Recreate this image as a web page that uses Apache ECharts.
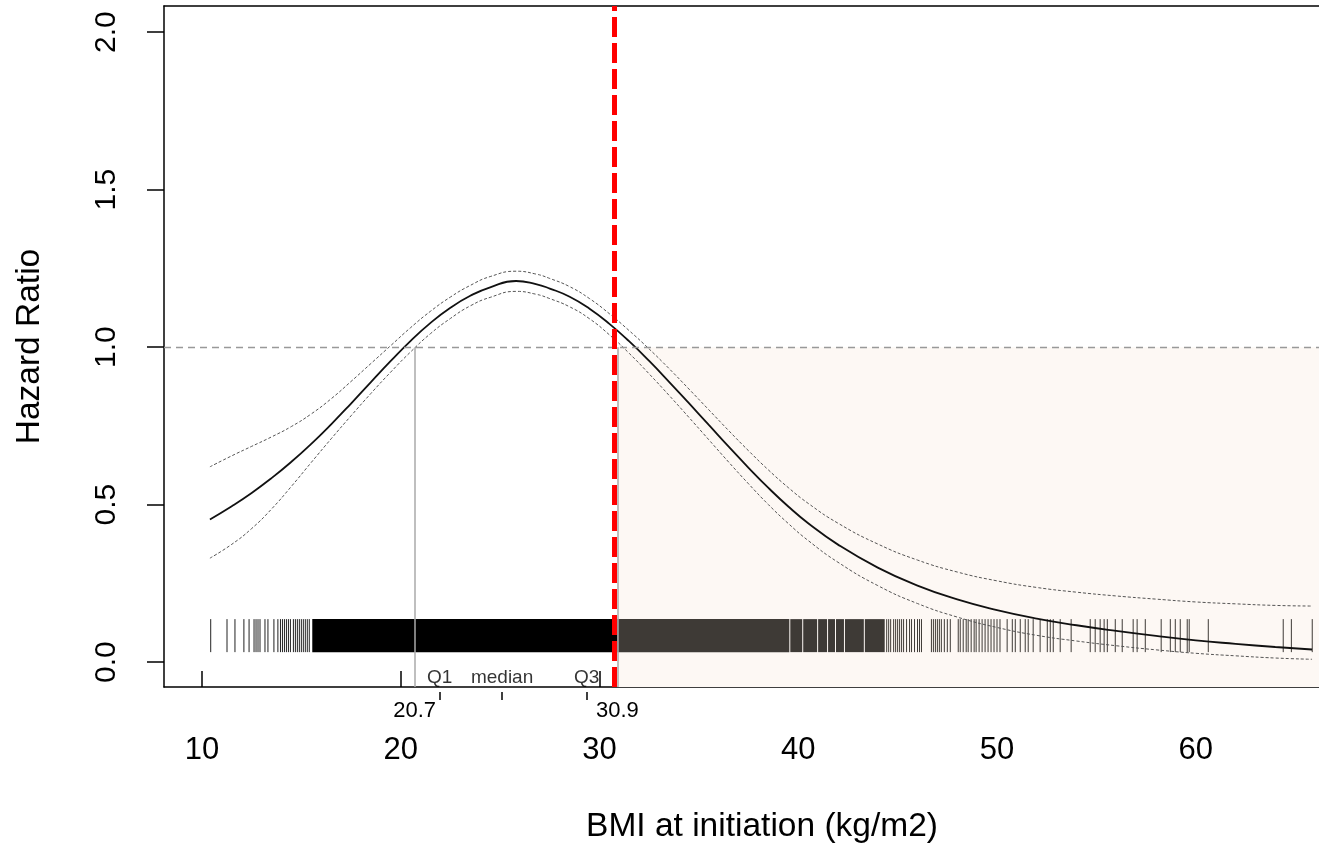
<!DOCTYPE html>
<html>
<head>
<meta charset="utf-8">
<script src="https://cdn.jsdelivr.net/npm/echarts@6/dist/echarts.min.js"></script>
<style>
html,body{margin:0;padding:0;background:#fff;}
#chart{width:1319px;height:850px;}
</style>
</head>
<body>
<div id="chart"></div>
<script>
// ---- data ----
const bmi = [10.4, 11.5, 12.5, 13.5, 14.5, 15.5, 16.5, 17.5, 18.5, 19.5, 20.5, 21.5, 22.5, 23.5, 24.5, 25.8, 26.8, 27.5, 28.5, 29.5, 30.5, 31.5, 32.5, 33.5, 34.5, 35.5, 36.5, 37.5, 38.5, 39.5, 40.5, 42, 44, 46, 48, 50, 52, 54, 56, 58, 60, 62, 64, 65.85];
const hrMain  = [0.453, 0.495, 0.537, 0.584, 0.636, 0.693, 0.755, 0.821, 0.889, 0.956, 1.020, 1.077, 1.125, 1.163, 1.190, 1.210, 1.200, 1.186, 1.160, 1.122, 1.074, 1.018, 0.956, 0.890, 0.822, 0.753, 0.684, 0.617, 0.553, 0.494, 0.441, 0.373, 0.300, 0.243, 0.199, 0.165, 0.138, 0.117, 0.099, 0.083, 0.069, 0.058, 0.048, 0.040];
const hrUpper = [0.620, 0.655, 0.685, 0.715, 0.748, 0.788, 0.836, 0.891, 0.948, 1.005, 1.062, 1.114, 1.159, 1.196, 1.224, 1.241, 1.232, 1.218, 1.192, 1.154, 1.106, 1.052, 0.994, 0.932, 0.867, 0.801, 0.735, 0.671, 0.610, 0.554, 0.504, 0.441, 0.375, 0.324, 0.286, 0.258, 0.237, 0.222, 0.210, 0.200, 0.191, 0.185, 0.180, 0.178];
const hrLower = [0.330, 0.374, 0.424, 0.486, 0.558, 0.634, 0.709, 0.782, 0.853, 0.921, 0.985, 1.043, 1.091, 1.131, 1.158, 1.177, 1.168, 1.154, 1.128, 1.090, 1.039, 0.980, 0.915, 0.847, 0.777, 0.706, 0.635, 0.566, 0.500, 0.440, 0.386, 0.317, 0.243, 0.186, 0.143, 0.110, 0.085, 0.067, 0.052, 0.039, 0.028, 0.020, 0.013, 0.009];

// rug of observed BMI values: solid bands where ticks merge, and single ticks
const rugBands = [[15.55, 30.9], [30.9, 39.55], [39.6, 40.2], [40.25, 40.95], [41.0, 41.45], [41.5, 41.85], [41.9, 42.3], [42.35, 43.3], [43.35, 44.35]];
const rugTicks = [10.44, 11.26, 11.66, 12.11, 12.37, 12.62, 12.72, 12.82, 12.92, 13.17, 13.32, 13.62, 13.82, 13.95, 14.05, 14.15, 14.25, 14.35, 14.45, 14.6, 14.7, 14.8, 14.9, 15.0, 15.1, 15.2, 15.3, 15.4,
  44.45, 44.55, 44.65, 44.8, 44.9, 45.0, 45.1, 45.2, 45.3, 45.45, 45.6, 45.7, 45.85, 46.0, 46.1, 46.2, 46.7, 46.8, 46.9, 47.0, 47.1, 47.2, 47.35, 47.5, 47.65, 48.05, 48.15, 48.3, 48.45, 48.55, 48.7, 48.85, 48.95, 49.1, 49.25, 49.4, 49.55, 49.7, 49.85, 50.0, 50.15,
  50.51, 50.77, 50.92, 51.17, 51.42, 51.57, 51.82, 52.17, 52.53, 52.68, 52.83, 53.18, 53.73, 54.69, 54.94, 55.19, 55.39, 55.55, 55.95, 56.30, 56.85, 57.05, 57.46, 58.26, 58.72, 58.97, 59.22, 59.57, 59.67, 60.63, 64.40, 64.81, 65.86];
const rugRange = [0.0317, 0.1365];

const xTicks = [10, 20, 30, 40, 50, 60];
const yTicks = [0, 0.5, 1.0, 1.5, 2.0];
const quartileValues = [21.96, 25.1, 29.35];
const quartileNames = ['Q1', 'median', 'Q3'];
const cutLabels = [20.7, 30.9];
const refHR = 1.0;
const lowCut = 20.7;
const highCut = 30.9;
const redLineX = 30.75;

const X_MIN = 8.09, X_MAX = 66.2, Y_MIN = -0.079, Y_MAX = 2.083;
const FONT = 'Liberation Sans, Arial, sans-serif';

const chart = echarts.init(document.getElementById('chart'));
const pairs = arr => bmi.map((x, i) => [x, arr[i]]);

const option = {
  animation: false,
  backgroundColor: '#ffffff',
  grid: { left: 164, top: 6, right: 0, height: 681, show: false },
  xAxis: [
    {
      type: 'value', min: X_MIN, max: X_MAX, position: 'bottom',
      name: 'BMI at initiation (kg/m2)', nameLocation: 'middle', nameGap: 123,
      nameTextStyle: { fontFamily: FONT, fontSize: 33.5, color: '#000', padding: [0, 0, 0, 41] },
      axisLine: { show: true, onZero: false, lineStyle: { color: '#000', width: 1.5 } },
      axisTick: { show: true, inside: true, length: 16, customValues: xTicks, lineStyle: { color: '#000', width: 1.5 } },
      axisLabel: { customValues: xTicks, fontFamily: FONT, fontSize: 31, color: '#000', margin: 48 },
      splitLine: { show: false }
    },
    {
      type: 'value', min: X_MIN, max: X_MAX, position: 'bottom', offset: 5,
      axisLine: { show: false, onZero: false },
      axisTick: { show: true, inside: false, length: 8, customValues: quartileValues, lineStyle: { color: '#000', width: 1.5 } },
      axisLabel: { customValues: cutLabels, fontFamily: FONT, fontSize: 22, color: '#000', margin: 8, formatter: v => v.toFixed(1) },
      splitLine: { show: false }
    },
    {
      type: 'value', min: X_MIN, max: X_MAX, position: 'top',
      axisLine: { show: true, onZero: false, lineStyle: { color: '#000', width: 1.5 } },
      axisTick: { show: false }, axisLabel: { show: false }, splitLine: { show: false }
    }
  ],
  yAxis: {
    type: 'value', min: Y_MIN, max: Y_MAX,
    name: 'Hazard Ratio', nameLocation: 'middle', nameGap: 117, nameRotate: 90,
    nameTextStyle: { fontFamily: FONT, fontSize: 33.5, color: '#000' },
    axisLine: { show: true, onZero: false, lineStyle: { color: '#000', width: 1.5 } },
    axisTick: { show: true, inside: false, length: 17, customValues: yTicks, lineStyle: { color: '#000', width: 1.5 } },
    axisLabel: { customValues: yTicks, rotate: 90, fontFamily: FONT, fontSize: 30, color: '#000', margin: 42, formatter: v => v.toFixed(1) },
    splitLine: { show: false }
  },
  series: [
    {
      name: 'annotations', type: 'line', data: [], z: 0, silent: true,
      markArea: {
        silent: true,
        itemStyle: { color: '#fdf8f4' },
        data: [[{ coord: [highCut, Y_MIN] }, { coord: [X_MAX, refHR] }]]
      },
      markLine: {
        silent: true, symbol: 'none', label: { show: false },
        data: [
          [{ coord: [X_MIN, refHR], lineStyle: { color: '#999', type: [7, 5], width: 1.3 } }, { coord: [X_MAX, refHR] }],
          [{ coord: [lowCut, refHR], lineStyle: { color: '#aaa', type: 'solid', width: 1.5 } }, { coord: [lowCut, Y_MIN] }],
          [{ coord: [highCut, refHR], lineStyle: { color: '#aaa', type: 'solid', width: 1.5 } }, { coord: [highCut, Y_MIN] }]
        ]
      }
    },
    {
      name: 'rugBands', type: 'custom', z: 2, silent: true,
      data: rugBands, encode: { x: [0, 1] },
      renderItem: (params, api) => {
        const a = api.coord([api.value(0), rugRange[1]]);
        const b = api.coord([api.value(1), rugRange[0]]);
        return { type: 'rect', shape: { x: a[0], y: a[1], width: b[0] - a[0], height: b[1] - a[1] },
          style: { fill: api.value(0) >= highCut ? '#3e3a36' : '#000' } };
      }
    },
    {
      name: 'rugTicks', type: 'custom', z: 2, silent: true,
      data: rugTicks.map(v => [v]), encode: { x: 0 },
      renderItem: (params, api) => {
        const a = api.coord([api.value(0), rugRange[1]]);
        const b = api.coord([api.value(0), rugRange[0]]);
        return { type: 'line', shape: { x1: a[0], y1: a[1], x2: b[0], y2: b[1] },
          style: { stroke: api.value(0) >= highCut ? '#3e3a36' : '#222', lineWidth: 1 } };
      }
    },
    {
      name: 'upper', type: 'line', data: pairs(hrUpper), smooth: 0.5, showSymbol: false, z: 3,
      lineStyle: { color: '#555', width: 1, type: [3, 2] }
    },
    {
      name: 'lower', type: 'line', data: pairs(hrLower), smooth: 0.5, showSymbol: false, z: 3,
      lineStyle: { color: '#555', width: 1, type: [3, 2] }
    },
    {
      name: 'HR', type: 'line', data: pairs(hrMain), smooth: 0.5, showSymbol: false, z: 4,
      lineStyle: { color: '#111', width: 1.8 }
    },
    {
      name: 'quartiles', type: 'scatter', z: 5, silent: true, symbolSize: 0,
      data: quartileValues.map((v, i) => ({ value: [v, -0.051], name: quartileNames[i] })),
      label: { show: true, position: 'inside', formatter: p => p.name, fontFamily: FONT, fontSize: 19, color: '#000' }
    },
    {
      name: 'cut', type: 'line', data: [], z: 6, silent: true,
      markLine: {
        silent: true, symbol: 'none', label: { show: false },
        lineStyle: { color: '#ff0000', width: 5, type: [20, 6] },
        data: [[{ coord: [redLineX, Y_MIN] }, { coord: [redLineX, Y_MAX] }]]
      }
    }
  ]
};
chart.setOption(option);
</script>
</body>
</html>
